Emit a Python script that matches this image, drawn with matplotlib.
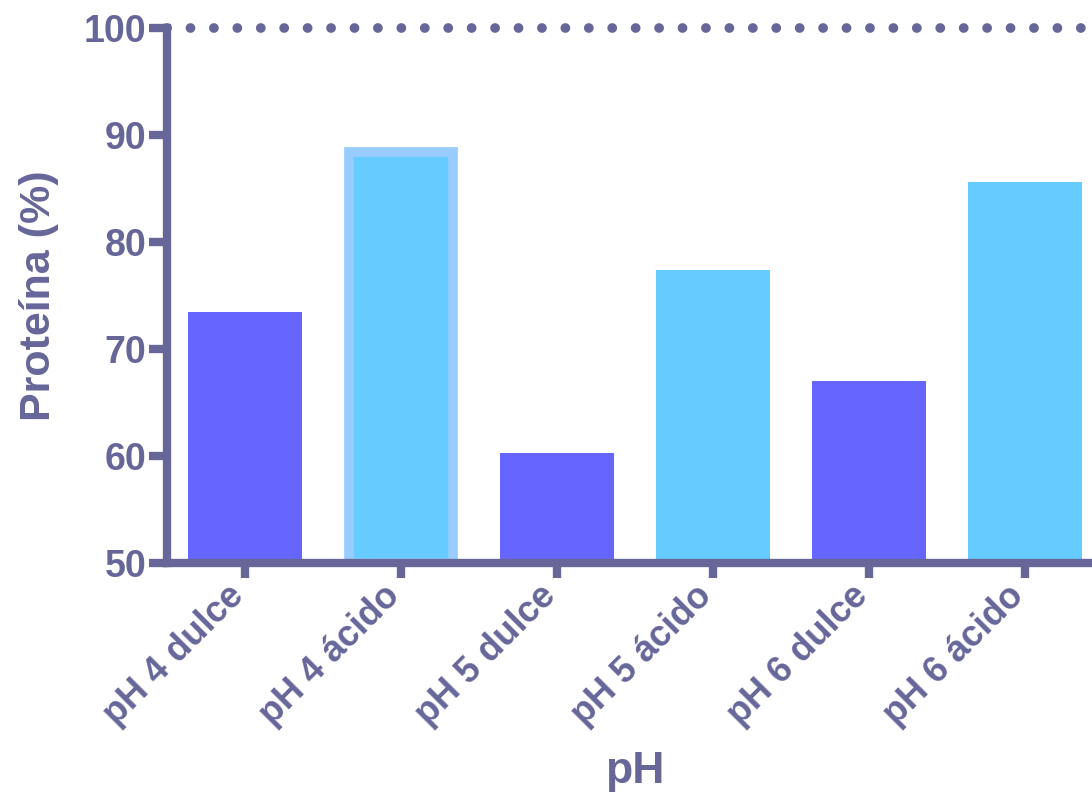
import matplotlib.pyplot as plt
import numpy as np

plt.rcParams['font.family'] = ['Liberation Sans', 'DejaVu Sans']
plt.rcParams['font.weight'] = 'bold'

categorias = ["pH 4 dulce", "pH 4 ácido", "pH 5 dulce", "pH 5 ácido", "pH 6 dulce", "pH 6 ácido"]
proteina = [73.5, 88.4, 60.3, 77.4, 67.0, 85.6]
colores = ["#6666FF", "#66CCFF", "#6666FF", "#66CCFF", "#6666FF", "#66CCFF"]

eje = "#666699"

fig = plt.figure(figsize=(10.92, 7.93), dpi=100)
ax = fig.add_axes([167 / 1092, 1 - 563 / 793, 936 / 1092, 535 / 793])

x = np.arange(len(categorias))
for i, (v, c) in enumerate(zip(proteina, colores)):
    if i == 1:
        # the highlighted bar gets a lighter outline
        ax.bar(x[i], v - 50, bottom=50, width=0.67, color=c,
               edgecolor="#99CCFF", linewidth=7, zorder=2)
    else:
        ax.bar(x[i], v - 50, bottom=50, width=0.73, color=c, zorder=2)

ax.axhline(100, color=eje, linewidth=7, linestyle=(0, (0.01, 2.4)),
           dash_capstyle="round", zorder=1, clip_on=False)

ax.set_xlim(-0.5, 5.5)
ax.set_ylim(50, 100)
ax.set_yticks([50, 60, 70, 80, 90, 100])
ax.set_xticks(x)
ax.set_xticklabels(categorias, rotation=45, ha="right", va="baseline",
                   rotation_mode="anchor", fontsize=26, color=eje, fontweight="bold")
for lab in ax.get_yticklabels():
    lab.set_fontsize(27)
    lab.set_color(eje)
    lab.set_fontweight("bold")

for s in ["top", "right"]:
    ax.spines[s].set_visible(False)
for s in ["left", "bottom"]:
    ax.spines[s].set_color(eje)
    ax.spines[s].set_linewidth(6)
ax.tick_params(axis="y", length=13, width=6, color=eje, pad=2)
ax.tick_params(axis="x", length=11, width=6, color=eje, pad=14)

ax.set_ylabel("Proteína (%)", fontsize=31, color=eje, fontweight="bold", labelpad=18)
fig.text(635 / 1092, 1 - 783 / 793, "pH", ha="center", va="baseline",
         fontsize=32, color=eje, fontweight="bold")

fig.savefig("out.png", dpi=100)
